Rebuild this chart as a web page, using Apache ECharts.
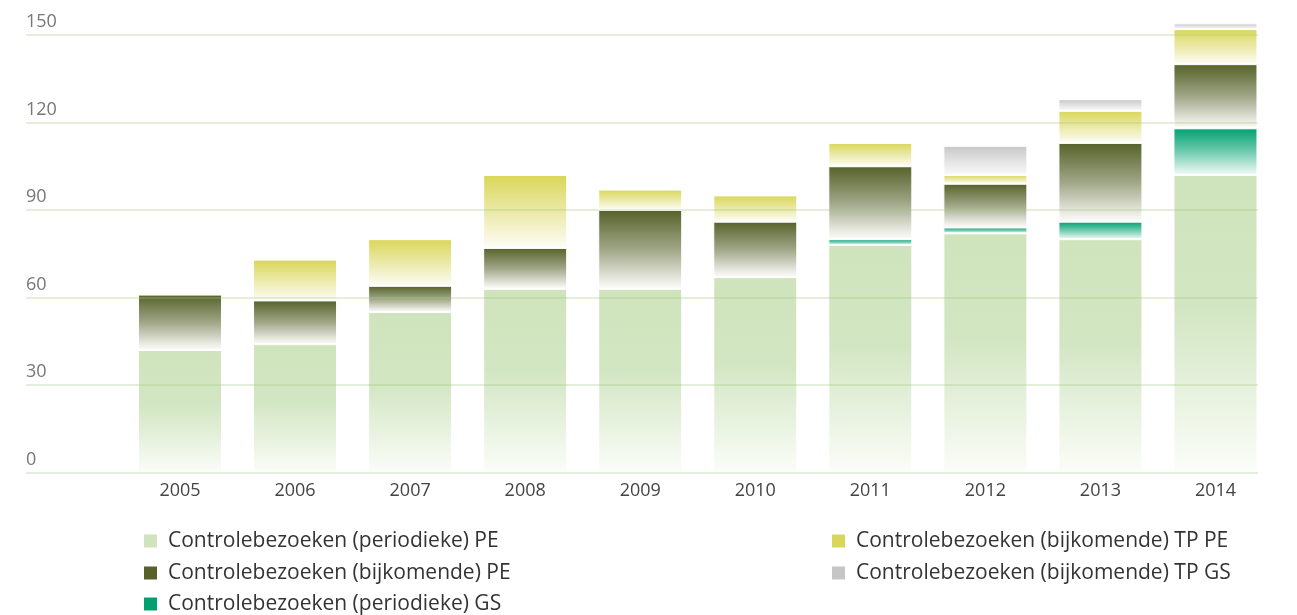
<!DOCTYPE html>
<html>
<head>
<meta charset="utf-8">
<script src="https://cdn.jsdelivr.net/npm/echarts@6/dist/echarts.min.js"></script>
<style>
  html, body { margin: 0; padding: 0; background: #fff; }
  #chart { width: 1297px; height: 615px; }
</style>
</head>
<body>
<div id="chart"></div>
<script>
// categories
const years = ["2005", "2006", "2007", "2008", "2009", "2010", "2011", "2012", "2013", "2014"];
// series values (stacked, bottom to top)
const periodiekePE = [42, 44, 55, 63, 63, 67, 78, 82, 80, 102];
const periodiekeGS = [null, null, null, null, null, null, 2, 2, 6, 16];
const bijkomendePE = [19, 15, 9, 14, 27, 19, 25, 15, 27, 22];
const bijkomendeTPPE = [null, 14, 16, 25, 7, 9, 8, 3, 11, 12];
const bijkomendeTPGS = [null, null, null, null, null, null, null, 10, 4, 2];
// y ticks
const yMin = 0;
const yMax = 150;
const yStep = 30;

const names = [
  "Controlebezoeken (periodieke) PE",
  "Controlebezoeken (bijkomende) PE",
  "Controlebezoeken (periodieke) GS",
  "Controlebezoeken (bijkomende) TP PE",
  "Controlebezoeken (bijkomende) TP GS"
];
const solid = {
  [names[0]]: "#cfe3bc",
  [names[1]]: "#56622a",
  [names[2]]: "#00a070",
  [names[3]]: "#d9d757",
  [names[4]]: "#c6c6c6"
};

function fade(stops) {
  return new echarts.graphic.LinearGradient(0, 0, 0, 1,
    stops.map(s => ({ offset: s[0], color: s[1] })));
}

const gradients = {
  [names[0]]: fade([[0, "#cfe3bc"], [0.45, "#d3e6c3"], [1, "#fbfdf9"]]),
  [names[1]]: fade([[0, "#56622a"], [0.5, "#a0a687"], [0.92, "#f0f0ea"], [1, "#fbfbf8"]]),
  [names[2]]: fade([[0, "#00a070"], [0.5, "#6fcbae"], [1, "#f3fbf8"]]),
  [names[3]]: fade([[0, "#d9d757"], [0.5, "#ebe9a8"], [1, "#fdfdf6"]]),
  [names[4]]: fade([[0, "#c6c6c6"], [0.5, "#e2e2e2"], [1, "#fafafa"]])
};

function bar(name, data) {
  return {
    name: name,
    type: "bar",
    stack: "total",
    xAxisIndex: 1,
    yAxisIndex: 1,
    barWidth: 84,
    clip: false,
    data: data,
    itemStyle: { color: gradients[name], borderColor: "#fff", borderWidth: 1 },
    emphasis: { disabled: true }
  };
}

const font = "'Open Sans', Lato, sans-serif";

// one legend per row, so nothing wraps
function legendRow(name, left, centerY) {
  return {
    left: left,
    top: centerY - 12,
    padding: 0,
    itemWidth: 15,
    itemHeight: 15,
    icon: "rect",
    selectedMode: false,
    textStyle: { fontSize: 21, lineHeight: 24, color: "#333", fontFamily: font, padding: [0, 0, 0, 5] },
    data: [{ name: name, itemStyle: { color: solid[name] } }]
  };
}

const chart = echarts.init(document.getElementById("chart"));

chart.setOption({
  animation: false,
  textStyle: { fontFamily: font },
  grid: [
    // axis / gridline grid
    { left: 26, right: 39, top: 35, bottom: 142.5 },
    // bars grid
    { left: 122.5, right: 24, top: 35, bottom: 142.5 }
  ],
  xAxis: [
    { gridIndex: 0, type: "category", data: years, show: false },
    {
      gridIndex: 1,
      type: "category",
      data: years,
      axisLine: { show: false },
      axisTick: { show: false },
      axisLabel: { color: "#444", fontSize: 18, margin: 9, fontFamily: font }
    }
  ],
  yAxis: [
    {
      gridIndex: 0,
      type: "value",
      min: yMin,
      max: yMax,
      interval: yStep,
      z: 5,
      axisLine: { show: false },
      axisTick: { show: false },
      axisLabel: {
        inside: true,
        margin: 0,
        verticalAlign: "bottom",
        padding: [0, 0, 4, 0],
        color: "#777",
        fontSize: 18,
        fontFamily: font
      },
      splitLine: { lineStyle: { color: "rgba(160,200,125,0.4)", width: 1.5 } }
    },
    { gridIndex: 1, type: "value", min: yMin, max: yMax, interval: yStep, show: false }
  ],
  legend: [
    legendRow(names[0], 142, 541),
    legendRow(names[1], 142, 573),
    legendRow(names[2], 142, 604),
    legendRow(names[3], 830, 541),
    legendRow(names[4], 830, 573)
  ],
  series: [
    bar(names[0], periodiekePE),
    bar(names[2], periodiekeGS),
    bar(names[1], bijkomendePE),
    bar(names[3], bijkomendeTPPE),
    bar(names[4], bijkomendeTPGS)
  ]
});
</script>
</body>
</html>
